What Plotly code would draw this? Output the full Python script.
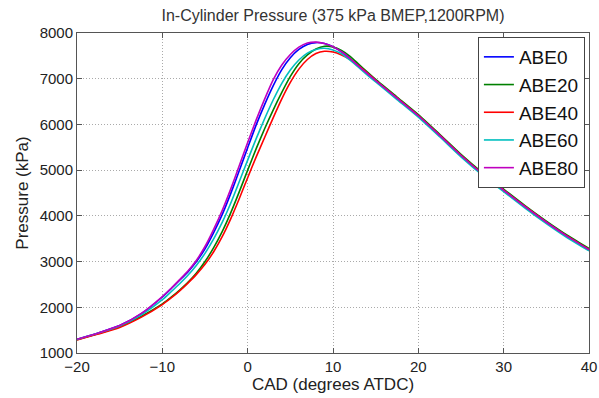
import plotly.graph_objects as go

cad = [-20, -17.5, -15, -12.5, -10, -9, -8, -7, -6, -5, -4, -3, -2, -1, 0, 1, 2, 3, 4, 5, 6, 7, 8, 9,
       10, 11, 12, 13, 14, 15, 17.5, 20, 22.5, 25, 27.5, 30, 32.5, 35, 37.5, 40]

abe0 = [1300, 1440, 1600, 1855, 2225, 2400, 2585, 2775, 3000, 3280, 3630, 4020, 4480, 4980, 5490, 5990, 6440, 6850,
        7200, 7460, 7640, 7750, 7790, 7770, 7700, 7590, 7440, 7275, 7115, 6960,
        6575, 6190, 5760, 5320, 4920, 4560, 4200, 3860, 3545, 3260]
abe20 = [1290, 1425, 1575, 1800, 2075, 2215, 2370, 2545, 2750, 3000, 3300, 3650, 4060, 4520, 5000, 5470, 5910, 6320,
         6700, 7050, 7330, 7520, 7650, 7710, 7695, 7620, 7490, 7320, 7150, 6985,
         6600, 6215, 5785, 5345, 4945, 4585, 4225, 3885, 3570, 3285]
abe40 = [1285, 1415, 1560, 1780, 2060, 2200, 2355, 2530, 2720, 2940, 3210, 3540, 3930, 4370, 4835, 5290, 5720, 6150,
         6560, 6920, 7210, 7420, 7550, 7600, 7585, 7520, 7420, 7280, 7130, 6965,
         6580, 6195, 5765, 5325, 4925, 4565, 4205, 3865, 3550, 3265]
abe60 = [1295, 1435, 1590, 1830, 2165, 2335, 2510, 2700, 2920, 3180, 3490, 3850, 4270, 4740, 5220, 5690, 6130, 6540,
         6900, 7190, 7410, 7560, 7640, 7665, 7630, 7545, 7405, 7245, 7085, 6930,
         6545, 6160, 5730, 5290, 4890, 4530, 4170, 3830, 3515, 3235]
abe80 = [1300, 1440, 1600, 1860, 2235, 2410, 2600, 2795, 3030, 3330, 3700, 4110, 4580, 5090, 5605, 6100, 6560, 6980,
         7300, 7530, 7690, 7780, 7800, 7770, 7700, 7590, 7440, 7275, 7115, 6960,
         6575, 6190, 5760, 5320, 4920, 4560, 4200, 3860, 3545, 3260]

names = ["ABE0", "ABE20", "ABE40", "ABE60", "ABE80"]
series = [abe0, abe20, abe40, abe60, abe80]
colors = ["#0000FF", "#008000", "#FF0000", "#00BFBF", "#BF00BF"]

x_ticks = [-20, -10, 0, 10, 20, 30, 40]
y_ticks = [1000, 2000, 3000, 4000, 5000, 6000, 7000, 8000]

fig = go.Figure()
for n, s, c in zip(names, series, colors):
    fig.add_trace(go.Scatter(x=cad, y=s, name=n, mode="lines",
                             line=dict(color=c, width=1.6, shape="spline", smoothing=0.6)))

font_family = "Liberation Sans, Arial, sans-serif"
axis_common = dict(
    showline=True, linecolor="#555555", linewidth=1, mirror="ticks",
    ticks="inside", ticklen=5, tickcolor="#555555",
    showgrid=True, gridcolor="#AAAAAA", griddash="1px,2px", gridwidth=1,
    zeroline=False, automargin=False,
    tickfont=dict(size=15, color="#222222", family=font_family),
)

fig.update_layout(
    width=599, height=398,
    margin=dict(l=77, r=10, t=33, b=45),
    paper_bgcolor="white", plot_bgcolor="white",
    font=dict(family=font_family, color="#222222"),
    title=dict(text="In-Cylinder Pressure (375 kPa BMEP,1200RPM)", x=(77 + 589) / 2 / 599, xanchor="center",
               y=1 - 15 / 398, yanchor="middle", font=dict(size=16, color="#333333")),
    xaxis=dict(range=[-20, 40], tickvals=x_ticks,
               title=dict(text="CAD (degrees ATDC)", font=dict(size=17, color="#222222"), standoff=4),
               **axis_common),
    yaxis=dict(range=[1000, 8000], tickvals=y_ticks,
               title=dict(text="Pressure (kPa)", font=dict(size=17, color="#222222"), standoff=6),
               **axis_common),
    legend=dict(x=0.992, y=0.9875, xanchor="right", yanchor="top",
                bgcolor="white", bordercolor="#444444", borderwidth=1,
                font=dict(size=19, color="#111111", family=font_family),
                tracegroupgap=0, itemwidth=30),
    showlegend=True,
)

fig.write_html("out.html")
